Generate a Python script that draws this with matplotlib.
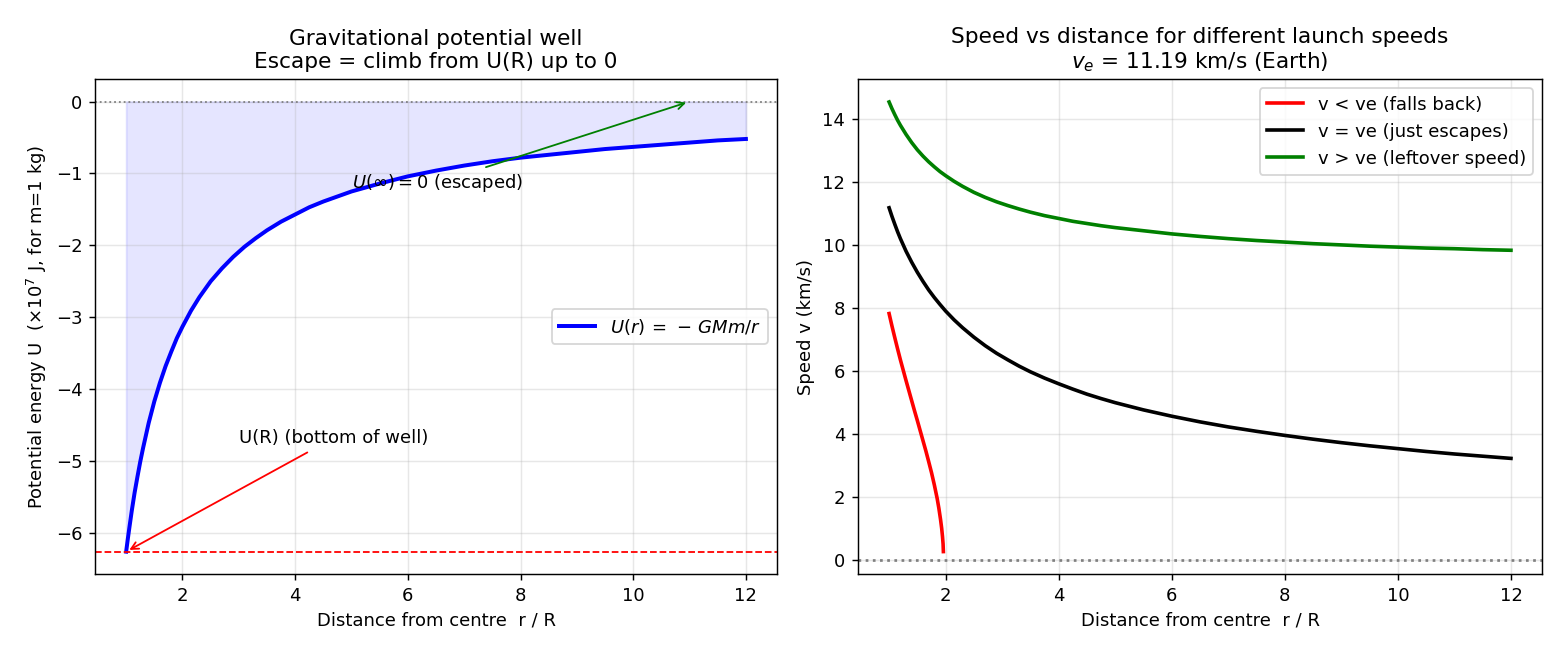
import matplotlib
matplotlib.use("Agg")
import matplotlib.pyplot as plt

r_well = [1.0, 1.03, 1.06, 1.1, 1.15, 1.2, 1.25, 1.3, 1.4, 1.5, 1.6, 1.7, 1.8, 1.9,
          2.0, 2.15, 2.3, 2.5, 2.7, 2.9, 3.1, 3.3, 3.5, 3.75, 4.0, 4.25, 4.5, 4.75,
          5.0, 5.5, 6.0, 6.5, 7.0, 7.5, 8.0, 8.5, 9.0, 9.5, 10.0, 10.5, 11.0, 11.5, 12.0]
U_well = [-6.26, -6.08, -5.91, -5.69, -5.44, -5.22, -5.01, -4.82, -4.47, -4.17, -3.91,
          -3.68, -3.48, -3.29, -3.13, -2.91, -2.72, -2.50, -2.32, -2.16, -2.02, -1.90,
          -1.79, -1.67, -1.57, -1.47, -1.39, -1.32, -1.25, -1.14, -1.04, -0.96, -0.89,
          -0.83, -0.78, -0.74, -0.70, -0.66, -0.63, -0.60, -0.57, -0.54, -0.52]
U_R = -6.26

r_speed = [1.0, 1.05, 1.1, 1.15, 1.2, 1.3, 1.4, 1.5, 1.6, 1.7, 1.8, 1.9, 2.0, 2.15,
           2.3, 2.5, 2.7, 2.9, 3.1, 3.3, 3.5, 3.75, 4.0, 4.25, 4.5, 4.75, 5.0, 5.5,
           6.0, 6.5, 7.0, 7.5, 8.0, 8.5, 9.0, 9.5, 10.0, 10.5, 11.0, 11.5, 12.0]
v_equal = [11.19, 10.92, 10.67, 10.43, 10.21, 9.81, 9.46, 9.14, 8.85, 8.58, 8.34, 8.12,
           7.91, 7.63, 7.38, 7.08, 6.81, 6.57, 6.36, 6.16, 5.98, 5.78, 5.60, 5.43, 5.27,
           5.13, 5.00, 4.77, 4.57, 4.39, 4.23, 4.09, 3.96, 3.84, 3.73, 3.63, 3.54, 3.45,
           3.37, 3.30, 3.23]
v_above = [14.55, 14.34, 14.15, 13.97, 13.81, 13.52, 13.26, 13.03, 12.83, 12.65, 12.49,
           12.34, 12.21, 12.03, 11.87, 11.68, 11.52, 11.38, 11.26, 11.15, 11.05, 10.94,
           10.85, 10.76, 10.69, 10.62, 10.56, 10.46, 10.36, 10.28, 10.21, 10.15, 10.10,
           10.05, 10.01, 9.97, 9.94, 9.91, 9.89, 9.86, 9.84]
r_below = [1.0, 1.05, 1.1, 1.15, 1.2, 1.25, 1.3, 1.35, 1.4, 1.45, 1.5, 1.55, 1.6, 1.65,
           1.7, 1.75, 1.8, 1.85, 1.88, 1.91, 1.93, 1.945, 1.955, 1.96]
v_below = [7.83, 7.44, 7.07, 6.71, 6.36, 6.03, 5.70, 5.38, 5.06, 4.74, 4.43, 4.11,
           3.79, 3.47, 3.13, 2.78, 2.39, 1.96, 1.65, 1.29, 1.01, 0.74, 0.51, 0.27]

fig = plt.figure(figsize=(12, 5), dpi=130)
ax1 = fig.add_axes([0.061, 0.117, 0.437, 0.761])
ax2 = fig.add_axes([0.550, 0.117, 0.4385, 0.761])

# left: potential well
ax1.fill_between(r_well, U_well, 0, color="blue", alpha=0.1)
ax1.plot(r_well, U_well, color="blue", lw=2.2, label=r"$U(r)\,=\,-\,GMm/r$")
ax1.axhline(0, color="gray", ls=":", lw=1)
ax1.axhline(U_R, color="red", ls="--", lw=1)
ax1.annotate("U(R) (bottom of well)", xy=(1.0, U_R), xytext=(3.0, -4.75),
             fontsize=10, arrowprops=dict(arrowstyle="->", color="red"))
ax1.annotate(r"$U(\infty) = 0$ (escaped)", xy=(11.0, 0.0), xytext=(5.0, -1.2),
             fontsize=10, arrowprops=dict(arrowstyle="->", color="green"))
ax1.set_xlim(0.45, 12.55)
ax1.set_ylim(-6.57, 0.31)
ax1.set_title("Gravitational potential well\nEscape = climb from U(R) up to 0", fontsize=12)
ax1.set_xlabel("Distance from centre  r / R")
ax1.set_ylabel(r"Potential energy U  ($\times 10^7$ J, for m=1 kg)")
ax1.grid(alpha=0.3)
ax1.legend(loc="center right", fontsize=10)

# right: speed vs distance
ax2.plot(r_below, v_below, color="red", lw=2, label="v < ve (falls back)")
ax2.plot(r_speed, v_equal, color="black", lw=2, label="v = ve (just escapes)")
ax2.plot(r_speed, v_above, color="green", lw=2, label="v > ve (leftover speed)")
ax2.axhline(0, color="gray", ls=":", lw=1.5)
ax2.set_xlim(0.45, 12.55)
ax2.set_ylim(-0.44, 15.27)
ax2.set_title("Speed vs distance for different launch speeds\n$v_e$ = 11.19 km/s (Earth)",
              fontsize=12)
ax2.set_xlabel("Distance from centre  r / R")
ax2.set_ylabel("Speed v (km/s)")
ax2.grid(alpha=0.3)
ax2.legend(loc="upper right", fontsize=10)

fig.savefig("out.png", dpi=130)
